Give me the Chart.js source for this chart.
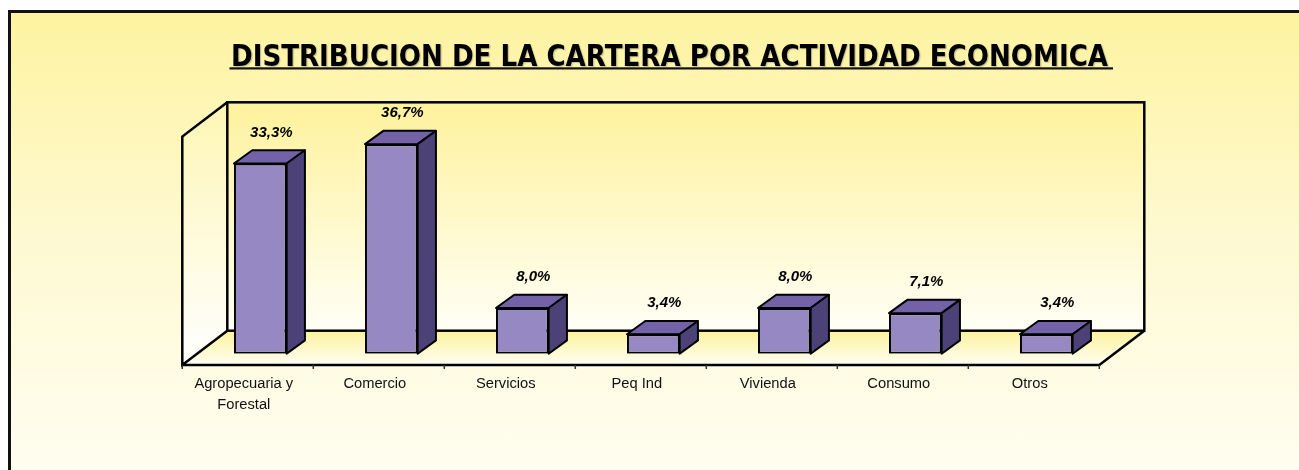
<!DOCTYPE html>
<html>
<head>
<meta charset="utf-8">
<script src="https://cdn.jsdelivr.net/npm/chart.js@4.4.1/dist/chart.umd.min.js"></script>
<style>
  html, body { margin: 0; padding: 0; background: #fff; overflow: hidden; }
  #marco {
    position: absolute; left: 8px; top: 10px; width: 1300px; height: 470px;
    border-left: 3px solid #111; border-top: 3px solid #111;
    background: linear-gradient(to bottom, #fef3a0 0%, #fef9cf 45%, #fffef3 100%);
  }
  #lienzo { position: absolute; left: 0; top: 0; }
</style>
</head>
<body>
<div id="marco"></div>
<canvas id="lienzo" width="1299" height="470"></canvas>
<script>
const titulo = 'DISTRIBUCION DE LA CARTERA POR ACTIVIDAD ECONOMICA';
const actividades = [['Agropecuaria y', 'Forestal'], 'Comercio', 'Servicios', 'Peq Ind', 'Vivienda', 'Consumo', 'Otros'];
const participacion = [33.3, 36.7, 8.0, 3.4, 8.0, 7.1, 3.4];
const ejeMax = 40;

// perspective of the box: floor depth and bar depth
const FONDO_X = 45, FONDO_Y = 34.3;
const BARRA_X = 18.3, BARRA_Y = 13.3;

const frente = '#9689c3';
const tapa = '#7362a8';
const lado = '#4d4278';

function pct(v) {
  return v.toFixed(1).replace('.', ',') + '%';
}

// walls, floor, bar tops/sides, value labels and the underlined title
const caja3d = {
  id: 'caja3d',
  beforeDatasetsDraw(chart) {
    const { ctx, chartArea, scales } = chart;
    const F = chartArea.bottom + 11.3;
    const x0 = chartArea.left - 12.5;
    const x1 = chartArea.right - 12.5;
    const h = chartArea.bottom - scales.y.getPixelForValue(ejeMax);
    const bx0 = x0 + FONDO_X, bx1 = x1 + FONDO_X, by = F - FONDO_Y;

    ctx.save();
    // back wall
    let g = ctx.createLinearGradient(0, by - h, 0, by);
    g.addColorStop(0, '#fef29c');
    g.addColorStop(1, '#fffff6');
    ctx.fillStyle = g;
    ctx.fillRect(bx0, by - h, bx1 - bx0, h);

    // left wall
    g = ctx.createLinearGradient(0, by - h, 0, F);
    g.addColorStop(0, '#fef6b4');
    g.addColorStop(1, '#ffffff');
    ctx.fillStyle = g;
    ctx.beginPath();
    ctx.moveTo(x0, F);
    ctx.lineTo(x0, F - h);
    ctx.lineTo(bx0, by - h);
    ctx.lineTo(bx0, by);
    ctx.closePath();
    ctx.fill();

    // floor
    g = ctx.createLinearGradient(0, by, 0, F);
    g.addColorStop(0, '#fdf29c');
    g.addColorStop(1, '#fffff4');
    ctx.fillStyle = g;
    ctx.beginPath();
    ctx.moveTo(x0, F);
    ctx.lineTo(x1, F);
    ctx.lineTo(bx1, by);
    ctx.lineTo(bx0, by);
    ctx.closePath();
    ctx.fill();

    ctx.strokeStyle = '#000';
    ctx.lineWidth = 2.5;
    ctx.lineJoin = 'miter';
    ctx.strokeRect(bx0, by - h, bx1 - bx0, h);
    ctx.beginPath();
    ctx.moveTo(bx0, by - h);
    ctx.lineTo(x0, F - h);
    ctx.lineTo(x0, F);
    ctx.lineTo(bx0, by);
    ctx.moveTo(x0, F);
    ctx.lineTo(x1, F);
    ctx.lineTo(bx1, by);
    ctx.stroke();

    // category ticks under the front edge
    ctx.lineWidth = 1.5;
    ctx.strokeStyle = '#333';
    ctx.beginPath();
    for (let k = 0; k <= actividades.length; k++) {
      const x = x0 + k * (x1 - x0) / actividades.length;
      ctx.moveTo(x, F);
      ctx.lineTo(x, F + 4);
    }
    ctx.stroke();
    ctx.restore();
  },
  afterDatasetsDraw(chart) {
    const { ctx } = chart;
    const barras = chart.getDatasetMeta(0).data;
    ctx.save();
    ctx.strokeStyle = '#000';
    ctx.lineWidth = 2;
    ctx.lineJoin = 'round';
    barras.forEach((b, i) => {
      const xl = b.x - b.width / 2, xr = b.x + b.width / 2;
      const yt = b.y, yb = b.base;
      // top face
      ctx.fillStyle = tapa;
      ctx.beginPath();
      ctx.moveTo(xl, yt);
      ctx.lineTo(xr, yt);
      ctx.lineTo(xr + BARRA_X, yt - BARRA_Y);
      ctx.lineTo(xl + BARRA_X, yt - BARRA_Y);
      ctx.closePath();
      ctx.fill();
      ctx.stroke();
      // side face
      ctx.fillStyle = lado;
      ctx.beginPath();
      ctx.moveTo(xr, yt);
      ctx.lineTo(xr + BARRA_X, yt - BARRA_Y);
      ctx.lineTo(xr + BARRA_X, yb - BARRA_Y);
      ctx.lineTo(xr, yb);
      ctx.closePath();
      ctx.fill();
      ctx.stroke();

      // value label
      ctx.fillStyle = '#000';
      ctx.font = 'italic bold 15px "Liberation Sans", Arial, sans-serif';
      ctx.textAlign = 'center';
      ctx.textBaseline = 'middle';
      ctx.fillText(pct(participacion[i]), b.x + 11, yt - 31);
    });
    ctx.restore();
  },
  afterDraw(chart) {
    const { ctx } = chart;
    ctx.save();
    ctx.font = 'bold 31px "DejaVu Sans", sans-serif';
    const w = ctx.measureText(titulo).width;
    const sx = 877 / w;
    ctx.translate(669.5, 65.7);
    ctx.scale(sx, 1);
    ctx.textAlign = 'center';
    ctx.textBaseline = 'alphabetic';
    ctx.shadowColor = 'rgba(80,80,80,0.3)';
    ctx.shadowOffsetX = 1.2;
    ctx.shadowOffsetY = 1.2;
    ctx.shadowBlur = 1;
    ctx.fillStyle = '#000';
    ctx.fillText(titulo, 0, 0);
    ctx.restore();
    ctx.save();
    ctx.fillStyle = '#111';
    ctx.fillRect(229.5, 67.3, 883.5, 2.2);
    ctx.restore();
  }
};

new Chart(document.getElementById('lienzo'), {
  type: 'bar',
  data: {
    labels: actividades,
    datasets: [{
      data: participacion,
      backgroundColor: frente,
      borderColor: '#000',
      borderWidth: 2,
      borderSkipped: false,
      barPercentage: 0.402,
      categoryPercentage: 1
    }]
  },
  options: {
    responsive: false,
    animation: false,
    devicePixelRatio: 1,
    layout: { padding: { left: 194.8, right: 187.2, top: 125.3, bottom: 0 } },
    plugins: {
      legend: { display: false },
      title: { display: false },
      tooltip: { enabled: false }
    },
    scales: {
      y: { display: false, min: 0, max: ejeMax },
      x: {
        grid: { display: false, drawTicks: false },
        border: { display: false },
        ticks: {
          color: '#111',
          font: { family: '"Liberation Sans", Arial, sans-serif', size: 14.7, lineHeight: 1.37 },
          padding: 20.6,
          labelOffset: -16.5,
          maxRotation: 0,
          autoSkip: false
        },
        afterFit(scale) { scale.height = 470 - 353.7; }
      }
    }
  },
  plugins: [caja3d]
});
</script>
</body>
</html>
